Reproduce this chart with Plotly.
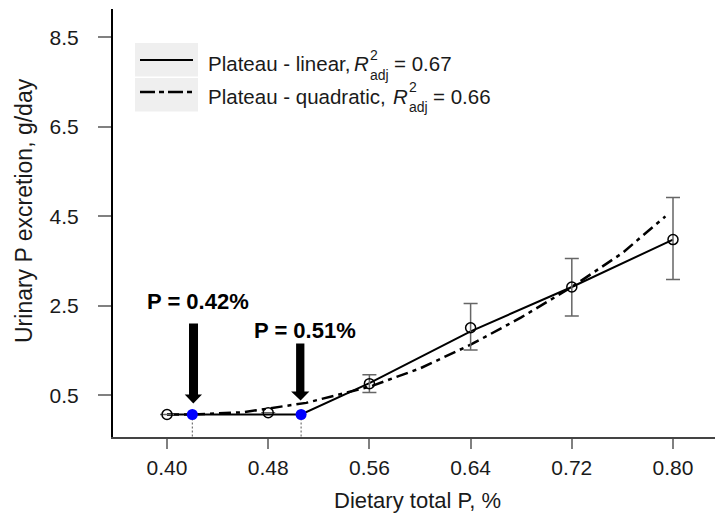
import plotly.graph_objects as go

# ---------------- data ----------------
dose = [0.40, 0.48, 0.56, 0.64, 0.72, 0.80]
urinary_p = [0.07, 0.11, 0.76, 2.01, 2.92, 3.98]
err_upper = [0.07, 0.11, 0.96, 2.55, 3.56, 4.92]
err_lower = [0.07, 0.11, 0.56, 1.51, 2.27, 3.09]

linear_x = [0.40, 0.506, 0.56, 0.64, 0.72, 0.80]
linear_y = [0.07, 0.07, 0.77, 1.93, 2.92, 3.98]

quad_x = [0.40, 0.42, 0.46, 0.51, 0.56, 0.60, 0.64, 0.68, 0.72, 0.76, 0.794]
quad_y = [0.07, 0.07, 0.12, 0.33, 0.69, 1.10, 1.63, 2.24, 2.92, 3.68, 4.50]

breakpoints = [0.42, 0.506]
plateau = 0.07

x_ticks = [0.40, 0.48, 0.56, 0.64, 0.72, 0.80]
y_ticks = [0.5, 2.5, 4.5, 6.5, 8.5]
legend_labels = ["Plateau - linear,", "Plateau - quadratic,"]
r2_values = [0.67, 0.66]

# ---------------- layout helpers ----------------
W, H = 715, 519
L, R, T, B = 113, 0, 9, 82
PW, PH = W - L - R, H - T - B
X_RANGE = [0.3573, 0.8332]
Y_RANGE = [-0.433, 9.135]
FONT = "Liberation Sans, Arial, sans-serif"
TXT = "#1a1a1a"


def px(x):
    return (x - L) / PW


def py(y):
    return (H - B - y) / PH


fig = go.Figure()

# quadratic plateau (dash-dot)
fig.add_trace(go.Scatter(x=quad_x, y=quad_y, mode="lines",
                         line=dict(color="black", width=2.5, dash="12px,5px,4px,5px"),
                         showlegend=False, hoverinfo="skip"))
# linear plateau (solid)
fig.add_trace(go.Scatter(x=linear_x, y=linear_y, mode="lines",
                         line=dict(color="black", width=2),
                         showlegend=False, hoverinfo="skip"))

# dotted drop lines from break points
for b in breakpoints:
    fig.add_trace(go.Scatter(x=[b, b], y=[plateau, Y_RANGE[0]], mode="lines",
                             line=dict(color="#555555", width=1, dash="2px,2px"),
                             showlegend=False, hoverinfo="skip"))

# observed means with error bars
fig.add_trace(go.Scatter(
    x=dose, y=urinary_p, mode="markers",
    marker=dict(symbol="circle-open", size=10, color="black", line=dict(width=1.5)),
    error_y=dict(type="data", symmetric=False,
                 array=[u - m for u, m in zip(err_upper, urinary_p)],
                 arrayminus=[m - l for m, l in zip(urinary_p, err_lower)],
                 color="#666666", thickness=1.5, width=7),
    showlegend=False))

# break points (blue)
fig.add_trace(go.Scatter(x=breakpoints, y=[plateau] * len(breakpoints), mode="markers",
                         marker=dict(size=11, color="#0000ff"),
                         showlegend=False))

shapes = []
annotations = []

# arrows (pixel sized, anchored at break points)
arrow_specs = [
    dict(tip=11, base=20, hl=-7.6, hr=9.7, sl=-3.3, sr=5.7, top=91, dx=1),
    dict(tip=14, base=23, hl=-10, hr=8.3, sl=-5, sr=3.3, top=71, dx=-0.5),
]
for b, s in zip(breakpoints, arrow_specs):
    path = (f"M{s['dx']},{s['tip']} L{s['hr']},{s['base']} L{s['sr']},{s['base']} "
            f"L{s['sr']},{s['top']} L{s['sl']},{s['top']} L{s['sl']},{s['base']} "
            f"L{s['hl']},{s['base']} Z")
    shapes.append(dict(type="path", xref="x", yref="y", xsizemode="pixel", ysizemode="pixel",
                       xanchor=b, yanchor=plateau, path=path,
                       fillcolor="black", line=dict(color="black", width=0)))

label_offsets = [(6, 113), (4, 84)]
for b, (dx, dy) in zip(breakpoints, label_offsets):
    annotations.append(dict(x=b, y=plateau, xref="x", yref="y", text=f"<b>P = {b:.2f}%</b>",
                            showarrow=False, xshift=dx, yshift=dy,
                            font=dict(family=FONT, size=22, color="black"),
                            xanchor="center", yanchor="middle"))

# ---------------- manual legend ----------------
cells = [(43, 76.5), (78, 111.5)]
for (y0, y1) in cells:
    shapes.append(dict(type="rect", xref="paper", yref="paper",
                       x0=px(135), x1=px(198), y0=py(y1), y1=py(y0),
                       fillcolor="#efefef", line=dict(width=0), layer="below"))
shapes.append(dict(type="line", xref="paper", yref="paper", x0=px(140), x1=px(193),
                   y0=py(60), y1=py(60), line=dict(color="black", width=2)))
shapes.append(dict(type="line", xref="paper", yref="paper", x0=px(140), x1=px(193),
                   y0=py(92), y1=py(92), line=dict(color="black", width=2.5, dash="15px,4px,5px,4px")))

leg_rows = [
    dict(y=64, rx=353, sup=(369, 55), sub=(369, 75), eqx=393),
    dict(y=96, rx=392, sup=(408, 87), sub=(408, 107), eqx=432),
]
for lab, r2, row in zip(legend_labels, r2_values, leg_rows):
    common = dict(xref="paper", yref="paper", showarrow=False, yanchor="middle", xanchor="left",
                  borderpad=0)
    annotations.append(dict(x=px(207), y=py(row["y"]), text=lab,
                            font=dict(family=FONT, size=20.5, color=TXT), **common))
    annotations.append(dict(x=px(row["rx"]), y=py(row["y"]), text="<i>R</i>",
                            font=dict(family=FONT, size=20.5, color=TXT), **common))
    annotations.append(dict(x=px(row["sup"][0]), y=py(row["sup"][1]), text="2",
                            font=dict(family=FONT, size=14, color=TXT), **common))
    annotations.append(dict(x=px(row["sub"][0]), y=py(row["sub"][1]), text="adj",
                            font=dict(family=FONT, size=14, color=TXT), **common))
    annotations.append(dict(x=px(row["eqx"]), y=py(row["y"]), text=f"= {r2:.2f}",
                            font=dict(family=FONT, size=20.5, color=TXT), **common))

# axis titles
annotations.append(dict(x=px(417), y=py(500), xref="paper", yref="paper", showarrow=False,
                        text="Dietary total P, %", xanchor="center", yanchor="middle",
                        font=dict(family=FONT, size=22, color=TXT)))
annotations.append(dict(x=px(24), y=py(211), xref="paper", yref="paper", showarrow=False,
                        text="Urinary P excretion, g/day", textangle=-90,
                        xanchor="center", yanchor="middle",
                        font=dict(family=FONT, size=23, color=TXT)))

fig.update_layout(
    width=W, height=H,
    margin=dict(l=L, r=R, t=T, b=B),
    paper_bgcolor="white", plot_bgcolor="white",
    shapes=shapes, annotations=annotations,
    showlegend=False,
    font=dict(family=FONT, color=TXT),
)
fig.update_xaxes(range=X_RANGE, tickvals=x_ticks, ticktext=[f"{v:.2f}" for v in x_ticks],
                 showgrid=False, zeroline=False, showline=True, linecolor="#444444", linewidth=2,
                 ticks="outside", ticklen=10, tickwidth=1.5, tickcolor="#808080",
                 ticklabelstandoff=1, tickfont=dict(family=FONT, size=21, color=TXT))
fig.update_yaxes(range=Y_RANGE, tickvals=y_ticks, ticktext=[f"{v:.1f}" for v in y_ticks],
                 showgrid=False, zeroline=False, showline=True, linecolor="black", linewidth=2,
                 ticks="outside", ticklen=13, tickwidth=1.5, tickcolor="#808080",
                 ticklabelstandoff=15, tickfont=dict(family=FONT, size=21, color=TXT))

fig.write_html("out.html", config={"displayModeBar": False},
               post_script="document.body.style.margin='0px';document.body.style.overflow='hidden';")
